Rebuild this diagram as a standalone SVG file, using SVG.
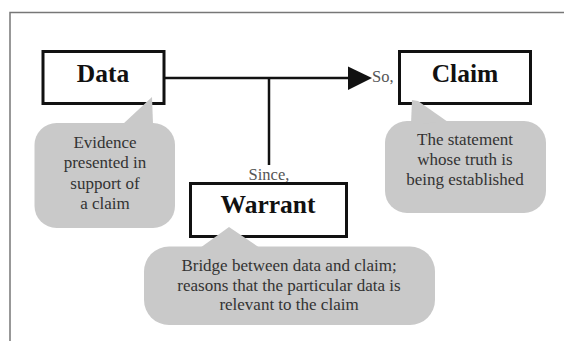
<svg xmlns="http://www.w3.org/2000/svg" width="564" height="341" viewBox="0 0 564 341">
<style>
.box{fill:#fff;stroke:#111;stroke-width:3}
.lbl{font-family:"Liberation Serif","Times New Roman",serif;font-weight:bold;font-size:25.5px;fill:#111;text-anchor:middle}
.bub{fill:#c9c9c9}
.bt{font-family:"Liberation Serif","Times New Roman",serif;font-size:17px;fill:#333;text-anchor:middle}
.cue{font-family:"Liberation Serif","Times New Roman",serif;font-size:16.5px;fill:#555}
.con{stroke:#111;stroke-width:2.5;fill:none}
</style>
<rect width="564" height="341" fill="#fff"/>
<path d="M10,341 V12.5 H564" fill="none" stroke="#777" stroke-width="1.5"/>
<g id="connectors">
<line class="con" x1="164" y1="78" x2="350" y2="78"/>
<polygon points="348,66.5 372,78 348,90" fill="#111"/>
<line class="con" x1="269" y1="78" x2="269" y2="165"/>
<text class="cue" x="269" y="180" text-anchor="middle">Since,</text>
<text class="cue" x="372" y="82">So,</text>
</g>
<g id="data">
<rect class="box" x="43" y="51.5" width="121" height="52"/>
<text class="lbl" x="103" y="82">Data</text>
</g>
<g id="claim">
<rect class="box" x="399.5" y="51.5" width="131" height="52"/>
<text class="lbl" x="465" y="82">Claim</text>
</g>
<g id="warrant">
<rect class="box" x="190.5" y="183.5" width="156" height="53"/>
<text class="lbl" x="268" y="213">Warrant</text>
</g>
<g id="data-note">
<rect class="bub" x="34.5" y="123" width="140.5" height="105" rx="22"/>
<polygon class="bub" points="152,97 123,124 153,124"/>
<text class="bt" x="105" y="148">Evidence</text>
<text class="bt" x="105" y="168">presented in</text>
<text class="bt" x="105" y="189">support of</text>
<text class="bt" x="105" y="209">a claim</text>
</g>
<g id="claim-note">
<rect class="bub" x="385" y="121" width="161" height="92" rx="22"/>
<polygon class="bub" points="412,100 418,101 448,122 411,124"/>
<text class="bt" x="465" y="145">The statement</text>
<text class="bt" x="465" y="165">whose truth is</text>
<text class="bt" x="465" y="185">being established</text>
</g>
<g id="warrant-note">
<rect class="bub" x="144" y="246.5" width="291" height="78.5" rx="25"/>
<polygon class="bub" points="229,227 200,248 260,248"/>
<text class="bt" x="289" y="271">Bridge between data and claim;</text>
<text class="bt" x="289" y="291">reasons that the particular data is</text>
<text class="bt" x="289" y="310">relevant to the claim</text>
</g>
</svg>
